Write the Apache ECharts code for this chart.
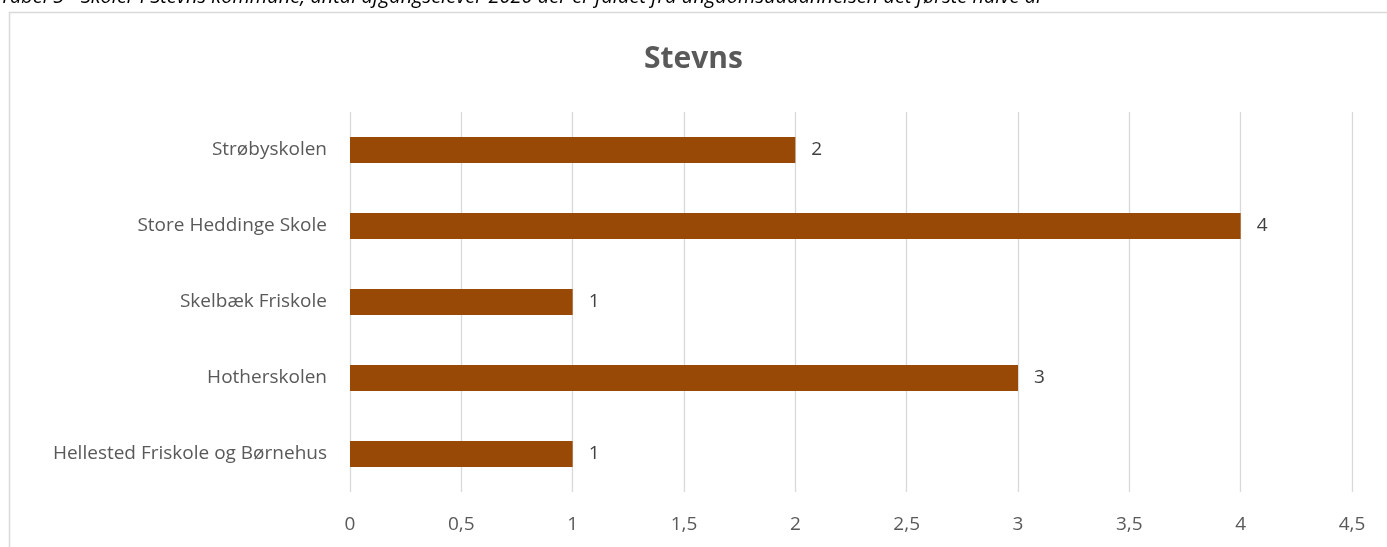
<!DOCTYPE html>
<html><head><meta charset="utf-8">
<script src="https://cdn.jsdelivr.net/npm/echarts@6/dist/echarts.min.js"></script>
<style>html,body{margin:0;padding:0;background:#fff;}#c{width:1387px;height:547px;}</style>
</head><body><div id="c"></div>
<script>
const categories = ['Hellested Friskole og Børnehus','Hotherskolen','Skelbæk Friskole','Store Heddinge Skole','Strøbyskolen'];
const values = [1, 3, 1, 4, 2];
const xTicks = [0, 0.5, 1, 1.5, 2, 2.5, 3, 3.5, 4, 4.5];
const chart = echarts.init(document.getElementById('c'));
const font = 'Open Sans';
chart.setOption({
  animation: false,
  graphic: [
    {type:'rect', shape:{x:9.5,y:12.5,width:1400,height:560}, style:{fill:'none', stroke:'#d9d9d9', lineWidth:1.5}, silent:true},
    {type:'text', left:0, top:-13, style:{text:'Tabel 5 - Skoler i Stevns kommune, antal afgangselever 2020 der er faldet fra ungdomsuddannelsen det første halve år', font:'italic 20px "Open Sans"', fill:'#000'}}
  ],
  title: {text:'Stevns', left:'center', top:39, textStyle:{fontFamily:font, fontSize:30, fontWeight:'bold', color:'#595959'}},
  grid: {left:350, right:35, top:112, bottom:55, containLabel:false},
  xAxis: {type:'value', min:0, max:4.5, interval:0.5,
    axisLine:{show:false}, axisTick:{show:false},
    splitLine:{lineStyle:{color:'#d9d9d9', width:1.3}},
    axisLabel:{fontFamily:font, fontSize:19, color:'#595959', margin:23,
      formatter:v => xTicks.includes(v) ? String(v).replace('.', ',') : ''}},
  yAxis: {type:'category', data:categories,
    axisLine:{show:false}, axisTick:{show:false},
    axisLabel:{fontFamily:font, fontSize:19, color:'#595959', margin:23}},
  series: [{type:'bar', data:values, barWidth:26, itemStyle:{color:'#994906'},
    label:{show:true, position:'right', distance:16, fontFamily:font, fontSize:19, color:'#404040'}}]
});
</script></body></html>
